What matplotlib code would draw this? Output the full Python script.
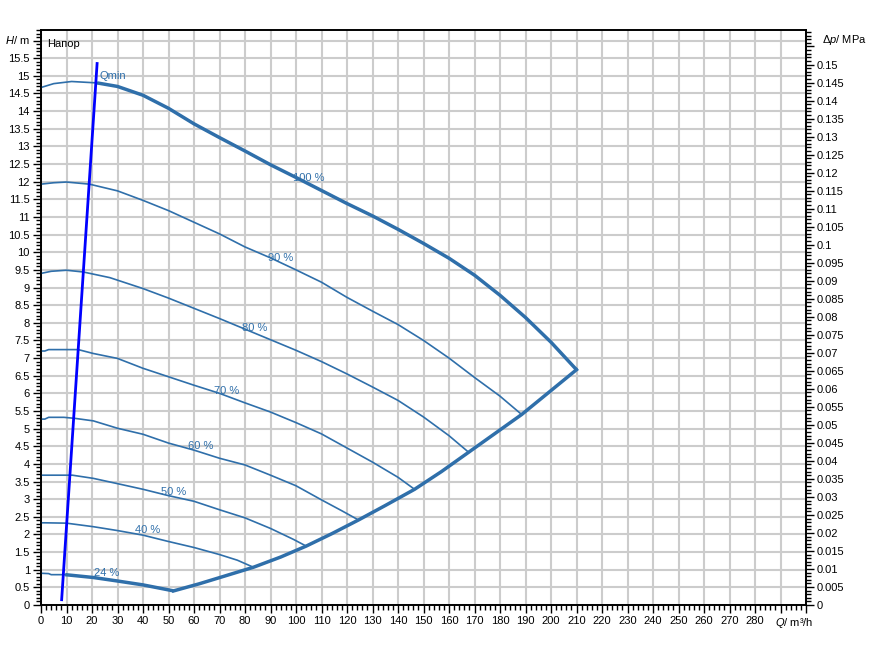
import matplotlib as mpl
mpl.use("Agg")
import matplotlib.pyplot as plt
from matplotlib.ticker import MultipleLocator, FuncFormatter
import numpy as np

plt.rcParams['font.family'] = ['Liberation Sans', 'DejaVu Sans']
plt.rcParams['mathtext.fontset'] = 'custom'
plt.rcParams['mathtext.rm'] = 'Liberation Sans'
plt.rcParams['mathtext.it'] = 'Liberation Sans:italic'

# pump curves: flow Q (m3/h) and head H (m) per speed
q100 = [0, 5, 12, 22, 30, 40, 50, 60, 70, 80, 90, 100, 110, 120, 130, 140, 150, 160, 170, 180, 190, 200, 210]
h100 = [14.67, 14.78, 14.84, 14.80, 14.70, 14.45, 14.08, 13.64, 13.25, 12.87, 12.48, 12.12, 11.75, 11.38,
        11.03, 10.65, 10.25, 9.83, 9.35, 8.78, 8.15, 7.45, 6.67]
q90 = [0, 5, 10, 19, 30, 40, 50, 60, 70, 80, 90, 100, 110, 120, 130, 140, 150, 160, 170, 180, 188.5]
h90 = [11.93, 11.97, 11.99, 11.93, 11.74, 11.47, 11.18, 10.85, 10.52, 10.15, 9.84, 9.50, 9.15, 8.72,
       8.33, 7.95, 7.50, 7.00, 6.45, 5.92, 5.40]
q80 = [0, 4, 10, 16.6, 27, 40, 50, 60, 70, 80, 90, 100, 110, 120, 130, 140, 150, 160, 167.7]
h80 = [9.40, 9.46, 9.49, 9.44, 9.28, 8.97, 8.70, 8.41, 8.12, 7.82, 7.52, 7.22, 6.90, 6.55, 6.18, 5.80,
       5.33, 4.80, 4.33]
q70 = [0, 1.5, 3, 14.6, 20.5, 30, 40, 50, 60, 70, 80, 90, 100, 110, 120, 130, 140, 146.5]
h70 = [7.20, 7.20, 7.24, 7.24, 7.13, 6.99, 6.71, 6.47, 6.23, 6.00, 5.73, 5.47, 5.17, 4.85, 4.45, 4.05,
       3.62, 3.28]
q60 = [0, 1.5, 3, 9, 13.4, 20.5, 30, 40, 50, 60, 70, 80, 90, 100, 110, 118, 124.5]
h60 = [5.27, 5.27, 5.32, 5.32, 5.29, 5.22, 5.01, 4.84, 4.59, 4.39, 4.16, 3.97, 3.68, 3.38, 2.98, 2.67, 2.41]
q50 = [0, 12.3, 20.5, 30, 40, 50, 60, 70, 80, 90, 99, 104]
h50 = [3.68, 3.68, 3.59, 3.44, 3.28, 3.10, 2.94, 2.70, 2.47, 2.17, 1.86, 1.67]
q40 = [0, 1.5, 10, 20.5, 30, 40, 50, 60, 70, 77, 83.3]
h40 = [2.33, 2.33, 2.32, 2.22, 2.11, 1.98, 1.80, 1.63, 1.43, 1.27, 1.07]
q24 = [0, 3, 4, 9.5, 20.5, 30, 40, 52]
h24 = [0.90, 0.89, 0.86, 0.86, 0.78, 0.68, 0.57, 0.40]

speeds = ['100 %', '90 %', '80 %', '70 %', '60 %', '50 %', '40 %', '24 %']
curves_q = [q100, q90, q80, q70, q60, q50, q40, q24]
curves_h = [h100, h90, h80, h70, h60, h50, h40, h24]
label_q = [99, 89, 79, 68, 57.6, 47, 37, 20.8]
label_h = [12.1, 9.83, 7.85, 6.06, 4.5, 3.2, 2.12, 0.9]
# operating range (thick line) starts at Qmin for the 100 % and 24 % curves
thick_from = {0: 22, 7: 9.5}

# max-flow boundary through the curve ends
q_end = [52, 62, 72, 83.3, 94, 104, 114, 124.5, 135, 146.5, 157, 167.7, 178, 188.5, 199, 210]
h_end = [0.40, 0.60, 0.82, 1.07, 1.36, 1.67, 2.02, 2.41, 2.82, 3.28, 3.78, 4.33, 4.86, 5.40, 6.02, 6.67]

# Qmin line
qmin_q = [8.1, 22.0]
qmin_h = [0.15, 15.35]

rho_g = 0.00979  # MPa per m
H_TOP = 16.3
blue = '#2f6faa'
fs = 8

fig = plt.figure(figsize=(8.69, 6.59), dpi=100)
ax = fig.add_axes([41 / 869, 54 / 659, 765 / 869, 575 / 659])

for i, (q, h) in enumerate(zip(curves_q, curves_h)):
    q = np.array(q)
    h = np.array(h)
    ax.plot(q, h, color=blue, lw=1.2, zorder=3)
    if i in thick_from:
        m = q >= thick_from[i]
        ax.plot(q[m], h[m], color=blue, lw=2.5, zorder=3, solid_capstyle='butt')
    ax.text(label_q[i], label_h[i], speeds[i], color=blue, fontsize=fs, va='center', ha='left', zorder=4)

ax.plot(q_end, h_end, color=blue, lw=2.5, zorder=3)
ax.plot(qmin_q, qmin_h, color='#0000ff', lw=2, zorder=5)
ax.text(23, 15.0, 'Qmin', color=blue, fontsize=fs, va='center', ha='left')
ax.text(2.4, 15.9, 'Напор', color='black', fontsize=fs, va='center', ha='left')

ax.set_xlim(0, 300)
ax.set_ylim(0, H_TOP)
ax.xaxis.set_major_locator(MultipleLocator(10))
ax.xaxis.set_minor_locator(MultipleLocator(2))
ax.yaxis.set_major_locator(MultipleLocator(0.5))
ax.yaxis.set_minor_locator(MultipleLocator(0.1))
ax.xaxis.set_major_formatter(FuncFormatter(lambda v, p: '' if v > 285 else '%g' % v))
ax.yaxis.set_major_formatter(FuncFormatter(lambda v, p: '' if v > 15.75 else '%g' % v))
ax.grid(True, which='major', color='#cccccc', lw=1.5, zorder=0)
ax.set_axisbelow(True)
ax.tick_params(which='major', direction='out', length=6, width=1, labelsize=fs, pad=2)
ax.tick_params(which='minor', direction='out', length=3.5, width=1)

ax2 = ax.twinx()
ax2.set_ylim(0, H_TOP * rho_g)
ax2.yaxis.set_major_locator(MultipleLocator(0.005))
ax2.yaxis.set_minor_locator(MultipleLocator(0.001))
ax2.yaxis.set_major_formatter(FuncFormatter(lambda v, p: '' if v > 0.1525 else '%g' % round(v, 3)))
ax2.tick_params(which='major', direction='out', length=6, width=1, labelsize=fs, pad=2)
ax2.tick_params(which='minor', direction='out', length=3.5, width=1)

for a in (ax, ax2):
    for s in a.spines.values():
        s.set_linewidth(1.2)

fig.text(5 / 869, 1 - 40 / 659, r'$H$/ m', fontsize=fs, va='center', ha='left')
fig.text(822 / 869, 1 - 40 / 659, r'$\Delta p$/ MPa', fontsize=fs, va='center', ha='left')
fig.text(775 / 869, 1 - 623 / 659, r'$Q$/ m³/h', fontsize=fs, va='center', ha='left')

fig.savefig('out.png', dpi=100)
